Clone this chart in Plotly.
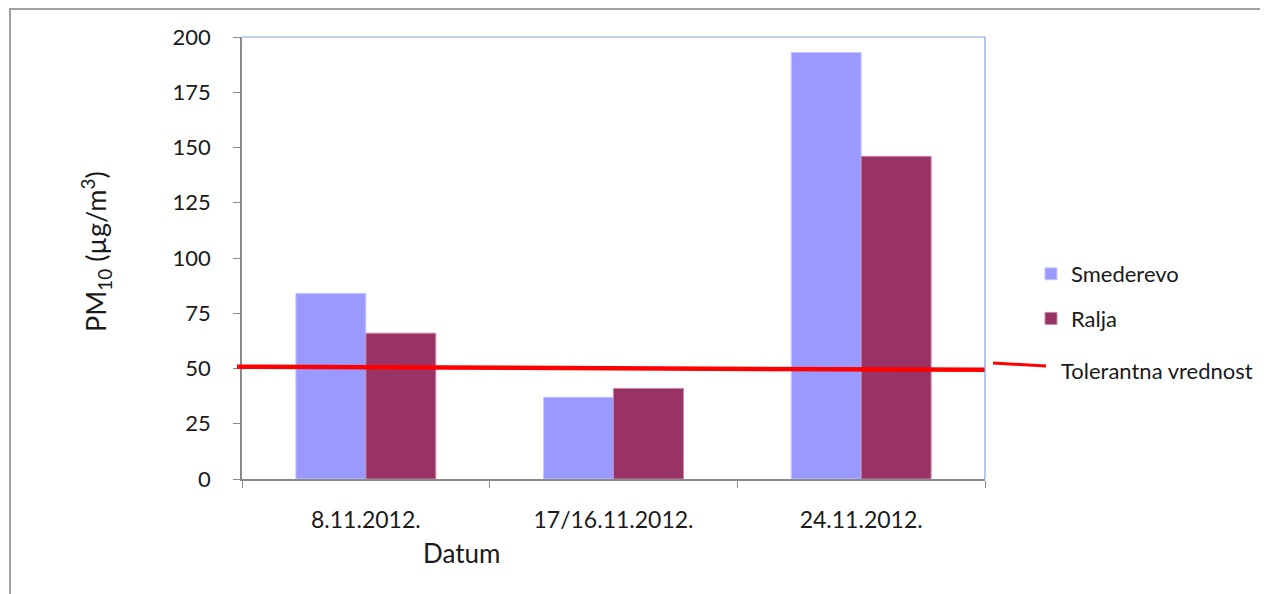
import plotly.graph_objects as go

categories = ["8.11.2012.", "17/16.11.2012.", "24.11.2012."]
smederevo = [84, 37, 193]
ralja = [66, 41, 146]
tolerance_start = 50.8
tolerance_end = 49.4
y_ticks = [0, 25, 50, 75, 100, 125, 150, 175, 200]

OFF = 8  # browser body margin
W, H = 1268 - OFF, 594 - OFF
L, R, T, B = 242, 985, 37, 479  # page pixel coordinates of the plot area


def px(x):
    return (x - L) / (R - L)


def py(y):
    return (B - y) / (B - T)


FONT = "Lato"
TXT = "#1a1a1a"
AX = "#8a8a8a"

fig = go.Figure()
fig.add_trace(go.Bar(x=categories, y=smederevo, name="Smederevo",
                     marker=dict(color="#9999FF", line=dict(color="#c8c8ff", width=1)),
                     legendgroup="a"))
fig.add_trace(go.Bar(x=categories, y=ralja, name="Ralja",
                     marker=dict(color="#993366", line=dict(color="#c88aa8", width=1)),
                     legendgroup="b"))

shapes = []
# tolerance line
shapes.append(dict(type="line", xref="paper", yref="y", x0=px(237), x1=1.0,
                   y0=tolerance_start, y1=tolerance_end,
                   line=dict(color="#FF0000", width=4.5)))
# legend line for tolerance
shapes.append(dict(type="line", xref="paper", yref="paper", x0=px(993), x1=px(1046),
                   y0=py(363), y1=py(366), line=dict(color="#FF0000", width=3)))
# top & right plot border (blue)
shapes.append(dict(type="line", xref="paper", yref="paper", x0=0, x1=1, y0=1, y1=1,
                   line=dict(color="#7FA3DA", width=1.2)))
shapes.append(dict(type="line", xref="paper", yref="paper", x0=1, x1=1, y0=0, y1=1,
                   line=dict(color="#7FA3DA", width=1.2)))
# outer frame
shapes.append(dict(type="line", xref="paper", yref="paper", x0=px(10), x1=px(10),
                   y0=py(8), y1=py(600), line=dict(color="#a0a0a0", width=2)))
shapes.append(dict(type="line", xref="paper", yref="paper", x0=px(9), x1=px(1264),
                   y0=py(9), y1=py(9), line=dict(color="#a0a0a0", width=2)))
shapes.append(dict(type="line", xref="paper", yref="paper", x0=px(1264), x1=px(1264),
                   y0=py(8), y1=py(600), line=dict(color="#808080", width=4)))

annotations = [
    dict(text="PM<sub>10</sub> (µg/m<sup>3</sup>)", xref="paper", yref="paper",
         x=px(96), y=py(252), xanchor="center", yanchor="middle", textangle=-90,
         showarrow=False, font=dict(family=FONT, size=27, color=TXT)),
    dict(text="Datum", xref="paper", yref="paper", x=px(461), y=py(553),
         xanchor="center", yanchor="middle",
         showarrow=False, font=dict(family=FONT, size=26, color=TXT)),
    dict(text="Tolerantna vrednost", xref="paper", yref="paper", x=px(1059), y=py(370),
         xanchor="left", yanchor="middle", showarrow=False,
         font=dict(family=FONT, size=22, color=TXT)),
]

fig.update_layout(
    width=W, height=H,
    margin=dict(l=L - OFF, r=W - (R - OFF), t=T - OFF, b=H - (B - OFF), pad=0),
    paper_bgcolor="white", plot_bgcolor="white",
    barmode="group", bargap=0.435, bargroupgap=0,
    font=dict(family=FONT, size=22, color=TXT),
    showlegend=True,
    legend=dict(x=px(1031), y=py(253), xanchor="left", yanchor="top",
                font=dict(family=FONT, size=22, color=TXT),
                tracegroupgap=13, traceorder="grouped",
                bgcolor="rgba(0,0,0,0)", borderwidth=0),
    shapes=shapes,
    annotations=annotations,
)
fig.update_xaxes(type="category", showgrid=False, showline=True, linecolor=AX, linewidth=1.5,
                 ticks="outside", tickson="boundaries", ticklen=7, tickcolor=AX,
                 ticklabelstandoff=20, tickfont=dict(family=FONT, size=23, color=TXT),
                 zeroline=False)
fig.update_yaxes(range=[0, 200], tickvals=y_ticks, showgrid=False, showline=True,
                 linecolor=AX, linewidth=1.5, ticks="outside", ticklen=7, tickcolor=AX,
                 ticklabelstandoff=18, tickfont=dict(family=FONT, size=22, color=TXT),
                 zeroline=False)

fig.write_html("out.html")
